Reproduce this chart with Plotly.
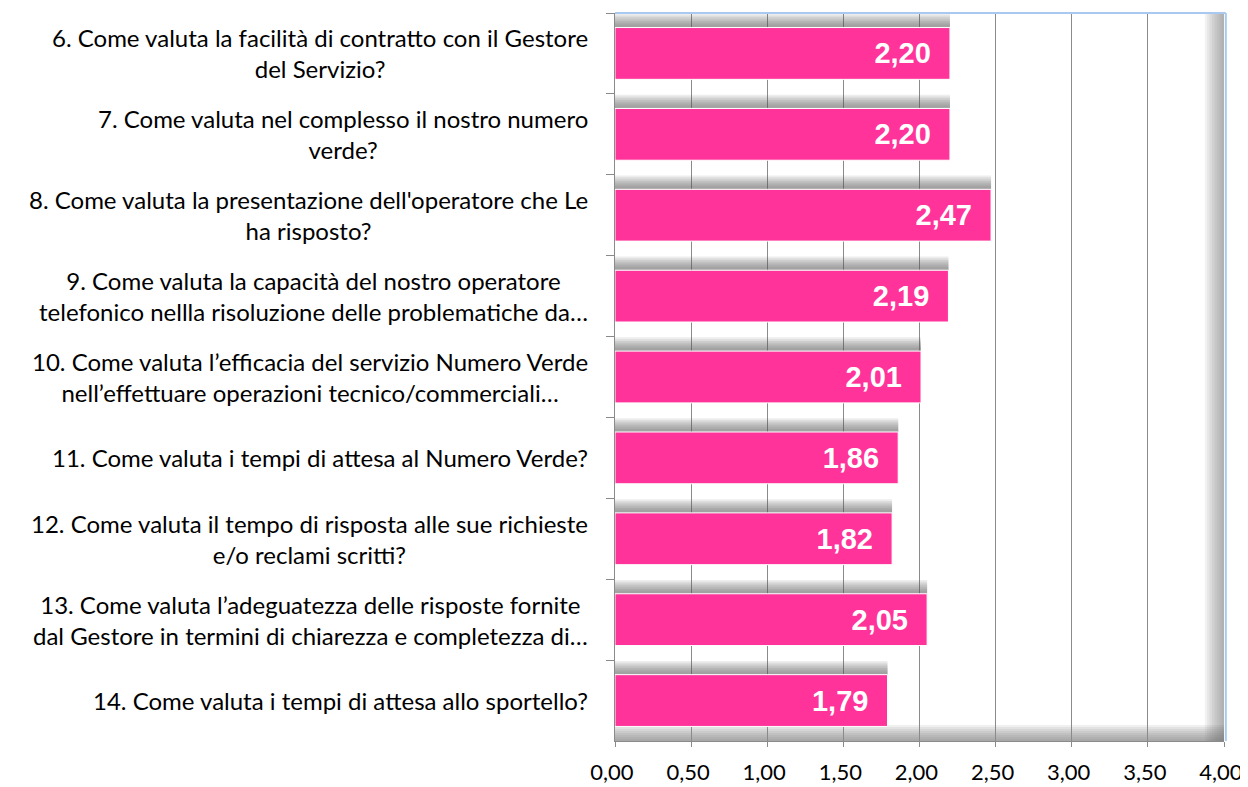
import plotly.graph_objects as go

categories = [
    "6. Come valuta la facilità di contratto con il Gestore<br>del Servizio?",
    "7. Come valuta nel complesso il nostro numero<br>verde?",
    "8. Come valuta la presentazione dell'operatore che Le<br>ha risposto?",
    "9. Come valuta la capacità del nostro operatore<br>telefonico nellla risoluzione delle problematiche da…",
    "10. Come valuta l’efficacia del servizio Numero Verde<br>nell’effettuare operazioni tecnico/commerciali…",
    "11. Come valuta i tempi di attesa al Numero Verde?",
    "12. Come valuta il tempo di risposta alle sue richieste<br>e/o reclami scritti?",
    "13. Come valuta l’adeguatezza delle risposte fornite<br>dal Gestore in termini di chiarezza e completezza di…",
    "14. Come valuta i tempi di attesa allo sportello?",
]
values = [2.20, 2.20, 2.47, 2.19, 2.01, 1.86, 1.82, 2.05, 1.79]
x_ticks = [0, 0.5, 1, 1.5, 2, 2.5, 3, 3.5, 4]

PINK = "#FF3399"
LABEL_FONT = "Lato"

fig = go.Figure()

# soft shadows above bars (layered for a gradient look)
n_layers = 7
for i in range(n_layers):
    off = -0.49 + i * 0.022
    w = -0.32 - off
    fig.add_trace(go.Bar(
        x=values, y=categories, orientation="h", offset=off, width=w,
        marker=dict(color="rgba(90,90,90,0.11)", line=dict(width=0)),
        hoverinfo="skip", showlegend=False,
    ))

fig.add_trace(go.Bar(
    x=values, y=categories, orientation="h", width=0.64, offset=-0.32,
    marker=dict(color=PINK, line=dict(width=1, color="white")),
    texttemplate="%{x:.2f}\u00a0\u00a0", textposition="inside",
    insidetextanchor="end",
    textfont=dict(family="Liberation Sans", size=29, color="white", weight="bold"),
    constraintext="none", showlegend=False,
))

# category labels
for c in categories:
    fig.add_annotation(
        x=0, xref="paper", y=c, yref="y", text=c, showarrow=False,
        xanchor="right", xshift=-25, align="center",
        font=dict(family=LABEL_FONT, size=24, color="black"),
    )

# plot-area shadows (right and bottom)
shapes = []
steps = 8
for i in range(steps):
    shapes.append(dict(type="rect", xref="paper", yref="paper",
                       x0=1 - (steps - i) * 2.4 / 609, x1=1, y0=0.0, y1=1,
                       fillcolor="rgba(110,110,110,0.09)", line=dict(width=0), layer="below"))
    shapes.append(dict(type="rect", xref="paper", yref="paper",
                       x0=0, x1=1, y0=0.0, y1=(steps - i) * 2.0 / 728,
                       fillcolor="rgba(110,110,110,0.10)", line=dict(width=0), layer="below"))
shapes.append(dict(type="line", xref="paper", yref="paper", x0=0, x1=1.003, y0=1, y1=1,
                   line=dict(color="#a9c9f0", width=2)))
shapes.append(dict(type="line", xref="paper", yref="paper", x0=1.003, x1=1.003, y0=0, y1=1,
                   line=dict(color="#a9c9f0", width=2)))

fig.update_layout(
    width=1248, height=779,
    margin=dict(l=607, r=32, t=5, b=46, autoexpand=False),
    paper_bgcolor="white", plot_bgcolor="white",
    separators=",.",
    barmode="overlay",
    shapes=shapes,
    xaxis=dict(
        range=[0, 4], tickvals=x_ticks, tickformat=".2f",
        showgrid=True, gridcolor="#8a8a8a", gridwidth=1,
        showline=True, linecolor="#8a8a8a", linewidth=1,
        ticks="outside", ticklen=5, tickcolor="#8a8a8a",
        ticklabelstandoff=7, ticklabelshift=-3,
        tickfont=dict(family=LABEL_FONT, size=22, color="black"),
        zeroline=False, automargin=False,
    ),
    yaxis=dict(
        type="category", categoryorder="array", categoryarray=categories,
        autorange="reversed", showticklabels=False,
        showgrid=False, showline=True, linecolor="#8a8a8a", linewidth=1,
        ticks="outside", tickson="boundaries", ticklen=8, tickcolor="#8a8a8a",
        automargin=False,
    ),
)

fig.write_html("out.html")
